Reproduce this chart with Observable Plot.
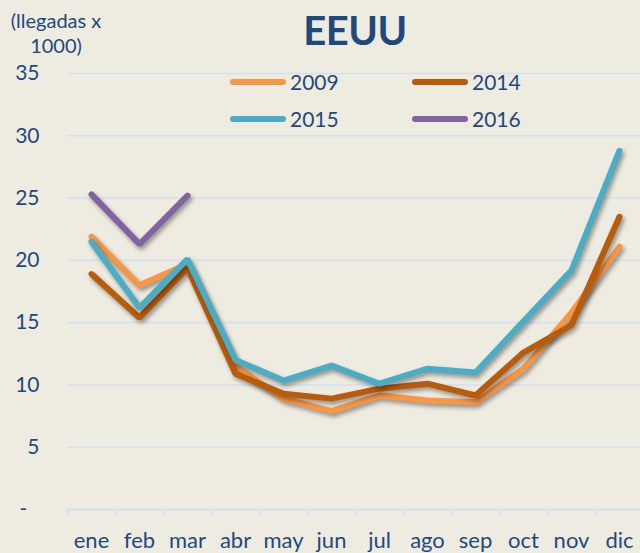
<!DOCTYPE html>
<html>
<head>
<meta charset="utf-8">
<script src="https://cdn.jsdelivr.net/npm/d3@7"></script>
<script src="https://cdn.jsdelivr.net/npm/@observablehq/plot@0.6"></script>
<style>
  html, body { margin: 0; padding: 0; background: #eeece1; }
  #wrap { position: relative; width: 640px; height: 553px; background: #eeece1; overflow: hidden; font-family: Lato, "Open Sans", sans-serif; color: #1f497d; }
  #chart { position: absolute; left: 0; top: 0; }
  .ln { filter: drop-shadow(2px 3px 2px rgba(0,0,0,0.38)); }
  .title { position: absolute; left: 255px; width: 200px; top: 6px; text-align: center; font-size: 40px; font-weight: bold; letter-spacing: -0.5px; line-height: 48px; }
  .ylab { position: absolute; left: 0px; width: 112px; top: 8px; text-align: center; font-size: 20px; line-height: 25px; }
  .sw { position: absolute; width: 56px; height: 6px; border-radius: 3px; }
  .lt { position: absolute; font-size: 21px; line-height: 22px; }
</style>
</head>
<body>
<div id="wrap">
  <div id="chart"></div>
  <div class="ylab">(llegadas x<br>1000)</div>
  <div class="title" id="title"></div>
  <div id="legend"></div>
</div>
<script>
const title = "EEUU";
const months = ["ene","feb","mar","abr","may","jun","jul","ago","sep","oct","nov","dic"];
const yTicks = [0, 5, 10, 15, 20, 25, 30, 35];
const years = ["2009", "2014", "2015", "2016"];
const colors = ["#f79646", "#b85b0a", "#4bacc6", "#8064a2"];
const v2009 = [21.9, 18.0, 19.7, 11.5, 8.9, 7.9, 9.15, 8.75, 8.6, 11.3, 15.8, 21.1];
const v2014 = [18.9, 15.4, 19.4, 10.9, 9.3, 8.9, 9.7, 10.1, 9.15, 12.6, 14.8, 23.5];
const v2015 = [21.5, 16.2, 20.1, 12.0, 10.35, 11.55, 10.1, 11.3, 11.0, 15.1, 19.2, 28.8];
const v2016 = [25.3, 21.3, 25.2];
const series = [v2009, v2014, v2015, v2016];

document.getElementById("title").textContent = title;

const edges = d3.range(months.length + 1).map(i => i - 0.5);
const grid = "#d3e0f0";

const lineMarks = series.map((vals, k) =>
  Plot.lineY(vals, {
    x: (d, i) => i, y: d => d,
    stroke: colors[k], strokeWidth: 6,
    strokeLinecap: "round", strokeLinejoin: "miter",
    className: "ln"
  })
);

const chart = Plot.plot({
  width: 640, height: 553,
  marginLeft: 67, marginRight: -3, marginTop: 73, marginBottom: 44,
  style: { background: "transparent", fontFamily: "Lato, 'Open Sans', sans-serif", fontSize: "21px", color: "#1f497d", overflow: "visible" },
  x: { type: "linear", domain: [-0.5, months.length - 0.5], axis: null },
  y: { domain: [0, 35], axis: null },
  marks: [
    Plot.ruleY(yTicks.filter(d => d > 0), { stroke: grid, strokeWidth: 1.6 }),
    Plot.ruleY([0], { stroke: grid, strokeWidth: 1.8 }),
    Plot.ruleX(edges, { y1: 0, y2: -0.65, stroke: grid, strokeWidth: 1.6 }),
    Plot.axisY(yTicks, { tickSize: 0, tickPadding: 28, fill: "#1f497d", fontSize: 21,
      tickFormat: d => d === 0 ? "-\u2007" : String(d) }),
    Plot.axisX(d3.range(months.length), { tickSize: 0, tickPadding: 23, fill: "#1f497d", fontSize: 22,
      tickFormat: i => months[i] }),
    ...lineMarks
  ]
});
document.getElementById("chart").appendChild(chart);

// legend
const legendPos = [
  { sx: 230, sy: 79, tx: 290, ty: 71 },
  { sx: 412, sy: 79, tx: 472, ty: 71 },
  { sx: 230, sy: 116, tx: 290, ty: 108 },
  { sx: 412, sy: 116, tx: 472, ty: 108 }
];
const leg = document.getElementById("legend");
years.forEach((y, k) => {
  const p = legendPos[k];
  const s = document.createElement("div");
  s.className = "sw";
  s.style.left = p.sx + "px"; s.style.top = p.sy + "px"; s.style.background = colors[k];
  leg.appendChild(s);
  const t = document.createElement("div");
  t.className = "lt";
  t.style.left = p.tx + "px"; t.style.top = p.ty + "px";
  t.textContent = y;
  leg.appendChild(t);
});
</script>
</body>
</html>
